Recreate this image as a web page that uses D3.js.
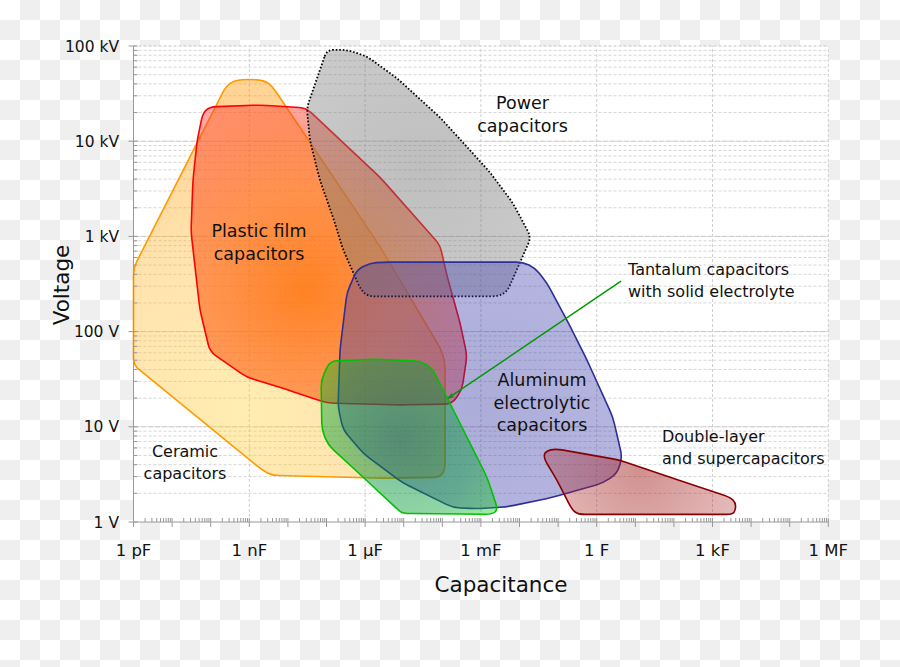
<!DOCTYPE html>
<html><head><meta charset="utf-8">
<script src="https://cdn.jsdelivr.net/npm/d3@7"></script>
<style>body{margin:0;background:#fff;} svg{display:block;} text{font-family:"DejaVu Sans",sans-serif;fill:#111;}</style>
</head><body>
<svg id="chart" width="900" height="667"></svg>
<script>
// Axis ticks
const capTicks = [1e-12, 1e-9, 1e-6, 1e-3, 1, 1e3, 1e6];
const capTickLabels = ["1 pF", "1 nF", "1 μF", "1 mF", "1 F", "1 kF", "1 MF"];
const voltTicks = [1, 10, 100, 1e3, 1e4, 1e5];
const voltTickLabels = ["1 V", "10 V", "100 V", "1 kV", "10 kV", "100 kV"];

// Region outlines: [log10(capacitance / F), log10(voltage / V)]
const ceramic = [[-12.00,2.67],[-9.60,4.58],[-9.37,4.64],[-9.01,4.65],[-8.62,4.64],[-8.41,4.58],[-5.61,2.89],[-4.03,1.81],[-3.93,1.68],[-3.93,0.55],[-4.06,0.47],[-5.61,0.46],[-8.41,0.49],[-8.65,0.54],[-12.00,1.65]];
const plasticFilm = [[-10.02,4.36],[-8.72,4.38],[-7.53,4.35],[-5.61,3.62],[-4.06,2.91],[-3.88,2.59],[-3.54,2.09],[-3.36,1.75],[-3.49,1.39],[-3.75,1.24],[-5.10,1.23],[-6.99,1.25],[-8.02,1.39],[-9.06,1.52],[-10.02,1.79],[-10.28,2.23],[-10.51,3.05],[-10.46,3.59],[-10.35,4.01],[-10.20,4.30]];
const power = [[-6.99,4.96],[-6.47,4.96],[-5.95,4.89],[-5.17,4.66],[-4.06,4.25],[-3.36,3.94],[-2.76,3.67],[-2.17,3.35],[-1.70,2.99],[-2.32,2.42],[-2.56,2.37],[-5.92,2.37],[-6.11,2.44],[-6.57,2.86],[-6.83,3.20],[-7.17,3.59],[-7.43,4.01],[-7.51,4.35]];
const aluminum = [[-5.54,2.73],[-1.91,2.73],[-1.60,2.67],[-1.29,2.51],[-0.77,2.12],[-0.25,1.70],[0.42,1.10],[0.66,0.68],[0.53,0.51],[0.16,0.41],[-1.13,0.26],[-2.32,0.16],[-3.10,0.14],[-3.72,0.15],[-5.02,0.41],[-6.05,0.72],[-6.57,0.97],[-6.70,1.21],[-6.65,1.81],[-6.47,2.41],[-6.21,2.65],[-5.87,2.72]];
const tantalum = [[-6.91,1.69],[-5.74,1.71],[-4.58,1.69],[-4.27,1.62],[-3.88,1.31],[-3.36,0.89],[-2.84,0.47],[-2.56,0.13],[-2.71,0.08],[-5.02,0.09],[-5.15,0.13],[-6.05,0.47],[-6.96,0.81],[-7.12,0.97],[-7.14,1.49]];
const doubleLayer = [[-1.34,0.74],[-1.08,0.77],[0.60,0.65],[1.90,0.47],[3.45,0.26],[3.61,0.20],[3.58,0.10],[3.45,0.08],[-0.48,0.08],[-0.64,0.13],[-1.03,0.44],[-1.37,0.67]];
const tantalumArrow = [[0.63,2.53],[-3.85,1.30]];

// Region labels
const labelPower = ["Power", "capacitors"];
const labelPlastic = ["Plastic film", "capacitors"];
const labelCeramic = ["Ceramic", "capacitors"];
const labelTantalum = ["Tantalum capacitors", "with solid electrolyte"];
const labelAluminum = ["Aluminum", "electrolytic", "capacitors"];
const labelDouble = ["Double-layer", "and supercapacitors"];

const svg = d3.select("#chart");
const W = 900, H = 667;
const x = d3.scaleLog().domain([1e-12, 1e6]).range([133.5, 828.3]);
const y = d3.scaleLog().domain([1, 1e5]).range([522, 46]);
const proj = p => [x(Math.pow(10, p[0])), y(Math.pow(10, p[1]))];

const defs = svg.append("defs");
// checkerboard (transparent background look)
const pat = defs.append("pattern").attr("id","checker").attr("width",40).attr("height",40).attr("patternUnits","userSpaceOnUse");
pat.append("rect").attr("width",40).attr("height",40).attr("fill","#ffffff");
pat.append("rect").attr("x",20).attr("y",0).attr("width",20).attr("height",20).attr("fill","#efefef");
pat.append("rect").attr("x",0).attr("y",20).attr("width",20).attr("height",20).attr("fill","#efefef");
svg.append("rect").attr("width",W).attr("height",H).attr("fill","url(#checker)");

function radial(id, cx, cy, r, stops) {
  const g = defs.append("radialGradient").attr("id", id).attr("gradientUnits","userSpaceOnUse")
    .attr("cx", cx).attr("cy", cy).attr("r", r);
  stops.forEach(s => g.append("stop").attr("offset", s[0]).attr("stop-color", s[1]).attr("stop-opacity", s[2]));
}
radial("gCeramic", 240, 410, 300, [[0,"#ffd23a",0.40],[0.5,"#ffb830",0.38],[1,"#ff9900",0.42]]);
radial("gPlastic", 305, 290, 200, [[0,"#ff6a00",0.80],[0.5,"#ff6418",0.62],[1,"#ff3030",0.42]]);
radial("gPower", 420, 170, 220, [[0,"#6c6c6c",0.44],[1,"#8a8a8a",0.40]]);
radial("gAlum", 480, 400, 200, [[0,"#3030a0",0.40],[1,"#3a3ab0",0.36]]);
radial("gTant", 400, 440, 130, [[0,"#007a40",0.52],[0.6,"#00a030",0.44],[1,"#00dd00",0.36]]);
radial("gDouble", 640, 470, 120, [[0,"#a01818",0.48],[1,"#b03030",0.30]]);

// plot area
svg.append("rect").attr("x", x(1e-12)).attr("y", y(1e5)).attr("width", x(1e6)-x(1e-12)).attr("height", y(1)-y(1e5)).attr("fill","#fff");

const grid = svg.append("g");
// minor horizontal gridlines
for (let d = 0; d < 5; d++) for (let m = 2; m <= 9; m++) {
  const v = m * Math.pow(10, d);
  grid.append("line").attr("x1", x(1e-12)).attr("x2", x(1e6)).attr("y1", y(v)).attr("y2", y(v))
    .attr("stroke","#d6d6d6").attr("stroke-width",1).attr("stroke-dasharray","3,2");
}
voltTicks.slice(1).forEach(v => {
  grid.append("line").attr("x1", x(1e-12)).attr("x2", x(1e6)).attr("y1", y(v)).attr("y2", y(v))
    .attr("stroke","#c4c4c4").attr("stroke-width",1).attr("stroke-dasharray", v === 1e5 ? "3,2" : "6,1");
});
capTicks.slice(1).forEach(c => {
  grid.append("line").attr("x1", x(c)).attr("x2", x(c)).attr("y1", y(1)).attr("y2", y(1e5))
    .attr("stroke","#cfcfcf").attr("stroke-width",1).attr("stroke-dasharray","3,2");
});

function roundedPath(pts, r) {
  const n = pts.length, p = d3.path();
  const cut = (a, b, d) => { const dx = b[0]-a[0], dy = b[1]-a[1], L = Math.hypot(dx, dy); const t = Math.min(d, L/2)/L; return [a[0]+dx*t, a[1]+dy*t]; };
  for (let i = 0; i < n; i++) {
    const prev = pts[(i-1+n)%n], cur = pts[i], next = pts[(i+1)%n];
    const a = cut(cur, prev, r), b = cut(cur, next, r);
    if (i === 0) p.moveTo(a[0], a[1]); else p.lineTo(a[0], a[1]);
    p.quadraticCurveTo(cur[0], cur[1], b[0], b[1]);
  }
  p.closePath();
  return p.toString();
}

const regions = [
  {pts: ceramic, fill: "url(#gCeramic)", stroke: "#ff9900", w: 1.6},
  {pts: plasticFilm, fill: "url(#gPlastic)", stroke: "#ff0000", w: 1.6},
  {pts: power, fill: "url(#gPower)", stroke: "#000", w: 1.8, dash: "1.6,1.9"},
  {pts: aluminum, fill: "url(#gAlum)", stroke: "#2e2e99", w: 1.6},
  {pts: tantalum, fill: "url(#gTant)", stroke: "#00c000", w: 1.6},
  {pts: doubleLayer, fill: "url(#gDouble)", stroke: "#880000", w: 1.6}
];
const shapes = svg.append("g");
regions.forEach(r => {
  shapes.append("path").attr("d", roundedPath(r.pts.map(proj), 7))
    .attr("fill", r.fill).attr("stroke", r.stroke).attr("stroke-width", r.w)
    .attr("stroke-linejoin","round").attr("stroke-dasharray", r.dash || null);
});

// arrow
defs.append("marker").attr("id","arrowHead").attr("viewBox","0 0 10 10").attr("refX",9).attr("refY",5)
  .attr("markerWidth",7).attr("markerHeight",7).attr("orient","auto-start-reverse").attr("markerUnits","userSpaceOnUse")
  .append("path").attr("d","M0,1 L10,5 L0,9 L3,5 Z").attr("fill","#009900");
const ap = tantalumArrow.map(proj);
svg.append("line").attr("x1", ap[0][0]).attr("y1", ap[0][1]).attr("x2", ap[1][0]).attr("y2", ap[1][1])
  .attr("stroke","#009900").attr("stroke-width",1.5).attr("marker-end","url(#arrowHead)");

// axes
const ax = svg.append("g").attr("stroke","#999").attr("stroke-width",1);
ax.append("line").attr("x1", x(1e-12)).attr("x2", x(1e-12)).attr("y1", y(1)).attr("y2", y(1e5));
ax.append("line").attr("x1", x(1e-12)).attr("x2", x(1e6)).attr("y1", y(1)).attr("y2", y(1));
for (let e = -12; e <= 6; e++) {
  const c = Math.pow(10, e);
  ax.append("line").attr("x1", x(c)).attr("x2", x(c)).attr("y1", y(1)-4).attr("y2", y(1)+5);
  if (e < 6) for (let m = 2; m <= 9; m++) {
    const cm = m * c;
    ax.append("line").attr("x1", x(cm)).attr("x2", x(cm)).attr("y1", y(1)-4).attr("y2", y(1));
  }
}
for (let d = 0; d <= 5; d++) {
  const v = Math.pow(10, d);
  ax.append("line").attr("x1", x(1e-12)-5).attr("x2", x(1e-12)+4).attr("y1", y(v)).attr("y2", y(v));
  if (d < 5) for (let m = 2; m <= 9; m++) {
    ax.append("line").attr("x1", x(1e-12)).attr("x2", x(1e-12)+4).attr("y1", y(m*v)).attr("y2", y(m*v));
  }
}
capTicks.forEach((c, i) => {
  svg.append("text").attr("x", x(c)).attr("y", 556).attr("text-anchor","middle").attr("font-size",16.5).text(capTickLabels[i]);
});
voltTicks.forEach((v, i) => {
  svg.append("text").attr("x", 119).attr("y", y(v)+5.5).attr("text-anchor","end").attr("font-size",15.5).text(voltTickLabels[i]);
});
svg.append("text").attr("x", 501).attr("y", 592).attr("text-anchor","middle").attr("font-size",21.5).text("Capacitance");
svg.append("text").attr("transform","translate(69,285) rotate(-90)").attr("text-anchor","middle").attr("font-size",21.5).text("Voltage");

function label(lines, px, py, size, gap, anchor) {
  const t = svg.append("text").attr("font-size", size).attr("text-anchor", anchor);
  lines.forEach((s, i) => t.append("tspan").attr("x", px).attr("y", py + i*gap).text(s));
}
label(labelPower, 522.5, 109, 17.5, 23, "middle");
label(labelPlastic, 259, 237, 17.5, 22.5, "middle");
label(labelCeramic, 185, 457, 16, 21.5, "middle");
label(labelTantalum, 628, 275, 16, 21.5, "start");
label(labelAluminum, 542, 386, 17.5, 22.5, "middle");
label(labelDouble, 662, 442, 16, 22, "start");
</script>
</body></html>
